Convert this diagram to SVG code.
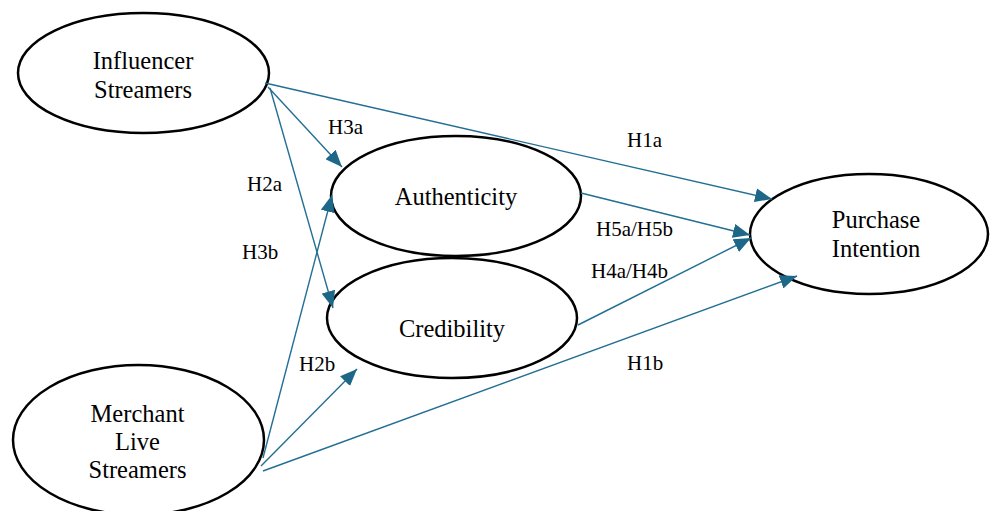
<svg xmlns="http://www.w3.org/2000/svg" width="990" height="511" viewBox="0 0 990 511">
<style>
.node{fill:#fff;stroke:#000;stroke-width:2.5}
.t{font-family:"Liberation Serif","Times New Roman",serif;font-size:24.5px;fill:#000;text-anchor:middle}
.l{font-family:"Liberation Serif","Times New Roman",serif;font-size:21px;fill:#000}
.c{stroke:#236f93;stroke-width:1.4;fill:none;marker-end:url(#arr)}
</style>
<defs>
<marker id="arr" markerUnits="userSpaceOnUse" markerWidth="18" markerHeight="14" refX="17" refY="7" orient="auto">
<path d="M0,0 L17,7 L0,14 z" fill="#1d6788"/>
</marker>
</defs>
<rect width="990" height="511" fill="#fff"/>
<g id="influencer">
<ellipse class="node" cx="143.5" cy="73" rx="125.5" ry="60"/>
<text class="t" x="143" y="69">Influencer</text>
<text class="t" x="143" y="98">Streamers</text>
</g>
<g id="authenticity">
<ellipse class="node" cx="456" cy="196" rx="125" ry="60"/>
<text class="t" x="456" y="205">Authenticity</text>
</g>
<g id="credibility">
<ellipse class="node" cx="452" cy="318" rx="125" ry="60"/>
<text class="t" x="452" y="337">Credibility</text>
</g>
<g id="purchase">
<ellipse class="node" cx="869" cy="234" rx="119" ry="60"/>
<text class="t" x="876" y="228">Purchase</text>
<text class="t" x="876" y="257">Intention</text>
</g>
<g id="merchant">
<ellipse class="node" cx="138.5" cy="440" rx="125.5" ry="75"/>
<text class="t" x="137.5" y="422">Merchant</text>
<text class="t" x="137.5" y="450">Live</text>
<text class="t" x="137.5" y="478">Streamers</text>
</g>
<g id="connectors">
<line class="c" x1="265" y1="83" x2="772" y2="199"/>
<line class="c" x1="268" y1="87" x2="342" y2="167"/>
<line class="c" x1="270" y1="88" x2="333" y2="308"/>
<line class="c" x1="581" y1="193" x2="750" y2="235"/>
<line class="c" x1="578" y1="325" x2="751" y2="238"/>
<line class="c" x1="263" y1="458" x2="332" y2="195"/>
<line class="c" x1="261" y1="466" x2="357" y2="369"/>
<line class="c" x1="263" y1="471" x2="797" y2="276"/>
</g>
<g id="labels">
<text class="l" x="328" y="134">H3a</text>
<text class="l" x="627" y="147">H1a</text>
<text class="l" x="247" y="191">H2a</text>
<text class="l" x="242" y="259">H3b</text>
<text class="l" x="299" y="371">H2b</text>
<text class="l" x="596" y="236">H5a/H5b</text>
<text class="l" x="591" y="278">H4a/H4b</text>
<text class="l" x="627" y="370">H1b</text>
</g>
</svg>
